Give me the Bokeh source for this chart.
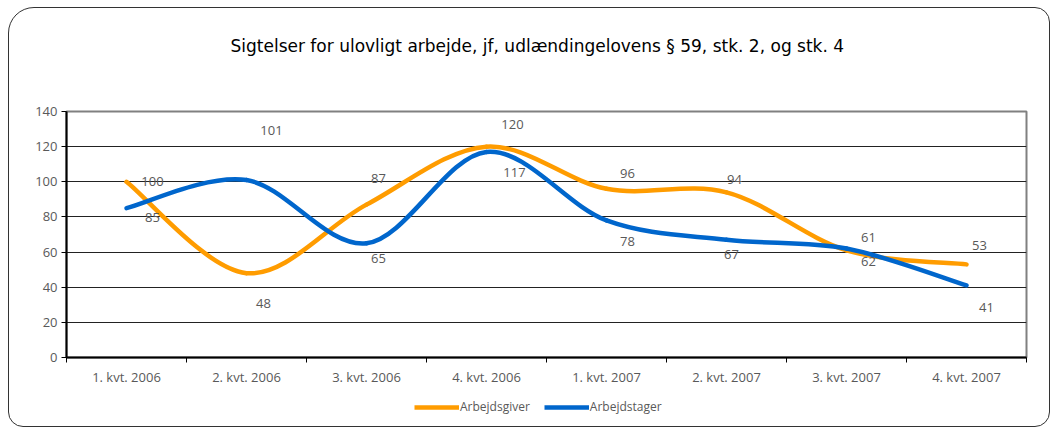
from bokeh.plotting import figure
from bokeh.layouts import column
from bokeh.models import (FixedTicker, Legend, LegendItem, ColumnDataSource, Range1d,
                          InlineStyleSheet, Title)
from bokeh.core.properties import value
from bokeh.embed import file_html
from bokeh.resources import INLINE

# ---------------- data ----------------
categories = ["1. kvt. 2006", "2. kvt. 2006", "3. kvt. 2006", "4. kvt. 2006",
              "1. kvt. 2007", "2. kvt. 2007", "3. kvt. 2007", "4. kvt. 2007"]
arbejdsgiver = [100, 48, 87, 120, 96, 94, 61, 53]
arbejdstager = [85, 101, 65, 117, 78, 67, 62, 41]
series_names = ["Arbejdsgiver", "Arbejdstager"]
y_ticks = [0, 20, 40, 60, 80, 100, 120, 140]
title_text = "Sigtelser for ulovligt arbejde, jf, udlændingelovens § 59, stk. 2, og stk. 4"

# label placement (screen px offsets from each point)
giver_label_dx = [26, 17, 12, 26, 21, 8, 22, 13]
giver_label_dy = [0, 30, -26, -22, -15, -13, -13, -19]
tager_label_dx = [26, 25, 12, 28, 21, 5, 22, 20]
tager_label_dy = [9, -50, 15, 21, 21, 15, 13, 22]

FONT = "Open Sans"
TITLE_FONT = "DejaVu Sans"
ORANGE = "#FF9C00"
BLUE = "#0066CC"
GRAY_TXT = "#595959"

FL, FR, FT, FB = 66, 24, 111, 40   # borders around frame
FW, FH = 960, 246
LEG_H = 427 - (FT + FH + FB)

p = figure(frame_width=FW, frame_height=FH, output_backend="svg", toolbar_location=None,
           x_range=Range1d(0, len(categories)), y_range=Range1d(0, 140),
           min_border_left=FL, min_border_right=FR, min_border_top=FT,
           min_border_bottom=FB, title_location=None)
p.outline_line_color = "#808080"
p.outline_line_width = 2
p.background_fill_color = "white"
p.border_fill_color = "white"

# title: a spacer next to the frame, then the real title above it
p.add_layout(Title(text=" ", text_font_size="1px", standoff=53), "above")
p.add_layout(Title(text=title_text, align="left", offset=164, standoff=0,
                   text_font=TITLE_FONT, text_font_size="17px",
                   text_font_style="normal", text_color="black"), "above")

# axes
xc = [i + 0.5 for i in range(len(categories))]
p.xaxis.ticker = FixedTicker(ticks=xc, minor_ticks=list(range(len(categories) + 1)))
p.xaxis.major_label_overrides = {x: c for x, c in zip(xc, categories)}
p.xaxis.major_tick_out = 0
p.xaxis.major_tick_in = 0
p.xaxis.minor_tick_out = 5
p.xaxis.minor_tick_in = 0
p.xaxis.minor_tick_line_color = "black"
p.xaxis.axis_line_color = "black"
p.xaxis.axis_line_width = 2
p.xaxis.major_label_standoff = 5
p.xaxis.major_label_text_font = FONT
p.xaxis.major_label_text_font_size = "13px"
p.xaxis.major_label_text_color = GRAY_TXT

p.yaxis.ticker = FixedTicker(ticks=y_ticks)
p.yaxis.major_tick_out = 5
p.yaxis.major_tick_in = 0
p.yaxis.minor_tick_out = 0
p.yaxis.minor_tick_in = 0
p.yaxis.major_tick_line_color = "black"
p.yaxis.axis_line_color = "black"
p.yaxis.axis_line_width = 2
p.yaxis.major_label_standoff = 4
p.yaxis.major_label_text_font = FONT
p.yaxis.major_label_text_font_size = "13px"
p.yaxis.major_label_text_color = GRAY_TXT

p.xgrid.visible = False
p.ygrid.ticker = FixedTicker(ticks=y_ticks)
p.ygrid.grid_line_color = "#222222"
p.ygrid.grid_line_width = 1


# smooth curves (Excel-like Catmull-Rom bezier) from the data
def bezier_source(vals):
    n = len(vals)
    xs = [i + 0.5 for i in range(n)]
    d = dict(x0=[], y0=[], x1=[], y1=[], cx0=[], cy0=[], cx1=[], cy1=[])
    for i in range(n - 1):
        im1 = max(i - 1, 0)
        ip2 = min(i + 2, n - 1)
        d["x0"].append(xs[i]); d["y0"].append(vals[i])
        d["x1"].append(xs[i + 1]); d["y1"].append(vals[i + 1])
        d["cx0"].append(xs[i] + (xs[i + 1] - xs[im1]) / 6)
        d["cy0"].append(vals[i] + (vals[i + 1] - vals[im1]) / 6)
        d["cx1"].append(xs[i + 1] - (xs[ip2] - xs[i]) / 6)
        d["cy1"].append(vals[i + 1] - (vals[ip2] - vals[i]) / 6)
    return ColumnDataSource(d)


for vals, col in ((arbejdsgiver, ORANGE), (arbejdstager, BLUE)):
    p.bezier(x0="x0", y0="y0", x1="x1", y1="y1", cx0="cx0", cy0="cy0",
             cx1="cx1", cy1="cy1", source=bezier_source(vals),
             line_color=col, line_width=4.5, line_cap="round")

# data labels
for vals, dx, dy in ((arbejdsgiver, giver_label_dx, giver_label_dy),
                     (arbejdstager, tager_label_dx, tager_label_dy)):
    src = ColumnDataSource(dict(x=xc, y=vals, t=[str(v) for v in vals],
                                dx=dx, dy=dy))
    p.text(x="x", y="y", text="t", x_offset="dx", y_offset="dy", source=src,
           text_font=value(FONT), text_font_size="13px", text_color=GRAY_TXT,
           text_align="center", text_baseline="middle")

# legend strip (separate small figure under the chart; its frame is aligned
# with the chart frame by the column layout)
lg = figure(width=FL + FW + FR, height=LEG_H, output_backend="svg",
            toolbar_location=None, x_range=Range1d(0, 1), y_range=Range1d(-1, 0),
            min_border=0, min_border_left=0, min_border_right=0,
            min_border_top=0, min_border_bottom=0, title_location=None)
lg.axis.visible = False
lg.grid.visible = False
lg.outline_line_color = None
lg.background_fill_color = "white"
lg.border_fill_color = "white"
# same series in a range where they fall out of view: only used for legend samples
leg_g = lg.line(x=xc, y=arbejdsgiver, line_color=ORANGE, line_width=4.5)
leg_t = lg.line(x=xc, y=arbejdstager, line_color=BLUE, line_width=4.5)
legend = Legend(items=[LegendItem(label=series_names[0], renderers=[leg_g]),
                       LegendItem(label=series_names[1], renderers=[leg_t])],
                orientation="horizontal", location=(414 - FL, LEG_H - 18),
                label_text_font=FONT, label_text_font_size="12px",
                label_text_color=GRAY_TXT, glyph_width=45, glyph_height=14,
                label_height=14, label_standoff=1, spacing=14, padding=0, margin=0,
                border_line_alpha=0, background_fill_alpha=0)
lg.add_layout(legend, "center")

layout = column(p, lg, spacing=0)

# rounded outer border drawn with CSS
layout.stylesheets = [InlineStyleSheet(css="""
:host::after {
  content: ""; position: absolute; left: 8px; top: 7px;
  width: 1042px; height: 420px; box-sizing: border-box;
  border: 1.5px solid #333333;
  border-radius: 26px 15px 15px 15px;
  pointer-events: none;
}
""")]

open("out.html", "w").write(file_html(layout, INLINE))
